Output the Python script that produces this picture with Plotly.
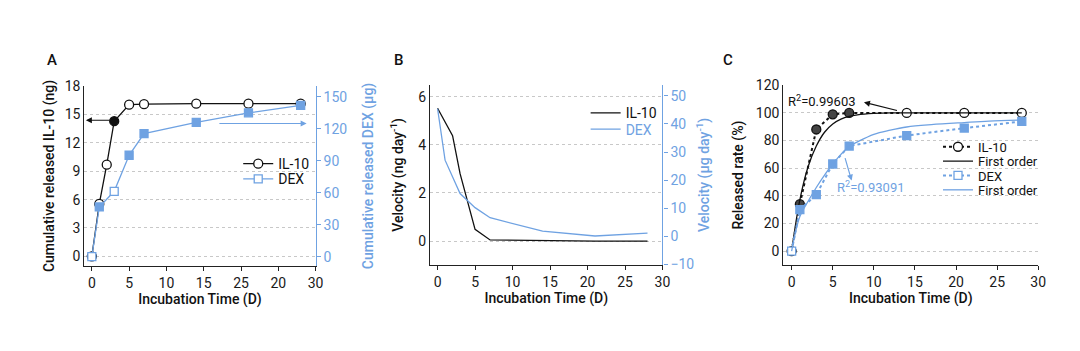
import plotly.graph_objects as go

BLUE = "#6fa2e2"
BLACK = "#111111"
GRID = "#c8c8c8"
FONT = "Roboto, Arial, sans-serif"

# Panel A: cumulative release
days_il10 = [0, 1, 2, 3, 5, 7, 14, 21, 28]
cum_il10 = [0, 5.55, 9.7, 14.3, 16.05, 16.1, 16.15, 16.15, 16.15]
days_dex = [0, 1, 3, 5, 7, 14, 21, 28]
cum_dex = [0, 46.7, 61.4, 95.2, 115.6, 126.0, 135.0, 142.0]
a_xticks = [0, 5, 10, 15, 20, 25, 30]
a_xticktext = ["0", "5", "10", "15", "25", "20", "30"]

# Panel B: release velocity
vel_days = [0, 1, 2, 3, 5, 7, 14, 21, 28]
vel_il10 = [5.52, 4.95, 4.38, 2.8, 0.49, 0.05, 0.01, 0.0, 0.0]
vel_days_dex = [0, 1, 3, 5, 7, 14, 21, 28]
vel_dex = [45.4, 27.1, 15.2, 10.2, 6.6, 1.8, 0.1, 1.1]

# Panel C: released rate and first-order fits
rate_days = [0, 1, 3, 5, 7, 14, 21, 28]
rate_il10 = [0, 33.9, 88.0, 99.0, 100.0, 100.0, 100.0, 100.0]
rate_dex = [0, 30.0, 40.8, 63.0, 76.0, 83.6, 89.0, 93.8]
fit_days = [0, 1, 2, 3, 4, 5, 6, 7, 8, 10, 12, 14, 17, 21, 24, 28]
fit_il10 = [0, 37, 61, 76, 86, 92, 95.5, 97.5, 98.6, 99.6, 100, 100, 100, 100, 100, 100]
fit_dex = [0, 25, 36, 46, 55, 63, 70, 75.7, 79, 84.5, 87.5, 89.8, 91.5, 93, 94, 94.8]

fig = go.Figure()

# ---------- Panel A ----------
il10_fill = ["white"] * len(cum_il10)
il10_fill[3] = BLACK
fig.add_trace(go.Scatter(
    x=days_il10, y=cum_il10, name="IL-10", mode="lines+markers",
    line=dict(color=BLACK, width=1.3),
    marker=dict(symbol="circle", size=9, color=il10_fill, line=dict(color=BLACK, width=1.3)),
    xaxis="x", yaxis="y", legend="legend"))
dex_fill = [BLUE] * len(cum_dex)
dex_fill[0] = "white"
dex_fill[2] = "white"
fig.add_trace(go.Scatter(
    x=days_dex, y=cum_dex, name="DEX", mode="lines+markers",
    line=dict(color=BLUE, width=1.3),
    marker=dict(symbol="square", size=8, color=dex_fill, line=dict(color=BLUE, width=1.3)),
    xaxis="x", yaxis="y2", legend="legend2"))

# ---------- Panel B ----------
fig.add_trace(go.Scatter(
    x=vel_days, y=vel_il10, name="IL-10", mode="lines",
    line=dict(color=BLACK, width=1.3), xaxis="x2", yaxis="y3", legend="legend3"))
fig.add_trace(go.Scatter(
    x=vel_days_dex, y=vel_dex, name="<span style='color:%s'>DEX</span>" % BLUE, mode="lines",
    line=dict(color=BLUE, width=1.3), xaxis="x2", yaxis="y4", legend="legend4"))

# ---------- Panel C ----------
c_fill = ["white"] * len(rate_il10)
for i in (1, 2, 3, 4):
    c_fill[i] = "#444444"
fig.add_trace(go.Scatter(
    x=rate_days, y=rate_il10, name="IL-10", mode="lines+markers",
    line=dict(color=BLACK, width=2, dash="dot"),
    marker=dict(symbol="circle", size=9, color=c_fill, line=dict(color=BLACK, width=1.3)),
    xaxis="x3", yaxis="y5", legend="legend5"))
fig.add_trace(go.Scatter(
    x=fit_days, y=fit_il10, name="First order", mode="lines",
    line=dict(color=BLACK, width=1.3, shape="spline"),
    xaxis="x3", yaxis="y5", legend="legend6"))
cd_fill = [BLUE] * len(rate_dex)
cd_fill[0] = "white"
fig.add_trace(go.Scatter(
    x=rate_days, y=rate_dex, name="DEX", mode="lines+markers",
    line=dict(color=BLUE, width=2, dash="dot"),
    marker=dict(symbol="square", size=8, color=cd_fill, line=dict(color=BLUE, width=1.3)),
    xaxis="x3", yaxis="y5", legend="legend7"))
fig.add_trace(go.Scatter(
    x=fit_days, y=fit_dex, name="First order", mode="lines",
    line=dict(color=BLUE, width=1.3, shape="spline"),
    xaxis="x3", yaxis="y5", legend="legend8"))

tickfont = dict(family=FONT, size=14, color="#1a1a1a")
titlefont = dict(family=FONT, size=14, color="#111111", weight=500)
bluetick = dict(family=FONT, size=14, color=BLUE)
bluetitle = dict(family=FONT, size=14, color=BLUE, weight=500)


def xax(domain, anchor, tickvals, ticktext=None):
    d = dict(domain=domain, anchor=anchor, range=[-1, 30], tickvals=tickvals,
             showline=True, linecolor="#222222", linewidth=1.3, ticks="outside",
             ticklen=4, tickcolor="#222222", showgrid=False, zeroline=False,
             tickfont=tickfont,
             title=dict(text="Incubation Time (D)", font=titlefont, standoff=3))
    if ticktext:
        d["ticktext"] = ticktext
    return d


def yax(domain, anchor, rng, dtick, title, standoff=6):
    return dict(domain=domain, anchor=anchor, range=rng, dtick=dtick, tick0=0,
                showline=True, linecolor="#222222", linewidth=1.3, ticks="",
                showgrid=True, gridcolor=GRID, griddash="dot", gridwidth=1,
                zeroline=False, tickfont=tickfont,
                title=dict(text=title, font=titlefont, standoff=standoff))


def yright(overlay, anchor, rng, dtick, title, standoff=10):
    return dict(overlaying=overlay, anchor=anchor, side="right", range=rng, dtick=dtick,
                tick0=0, showline=True, linecolor=BLUE, linewidth=1.3, ticks="outside",
                ticklen=4, tickcolor=BLUE, showgrid=False, zeroline=False,
                tickfont=bluetick, title=dict(text=title, font=bluetitle, standoff=standoff))


def leg(xpx, ypx, size=14):
    return dict(x=xpx / 1080, y=1 - ypx / 351, xanchor="left", yanchor="middle",
                bgcolor="rgba(0,0,0,0)", borderwidth=0,
                font=dict(family=FONT, size=size, color="#111111"), itemwidth=30)


fig.update_layout(
    width=1080, height=351,
    margin=dict(l=0, r=0, t=0, b=0),
    paper_bgcolor="white", plot_bgcolor="white",
    font=dict(family=FONT, color="#111111"),
    xaxis=xax([0.0787, 0.2944], "y", a_xticks, a_xticktext),
    yaxis=yax([0.2328, 0.7672], "x", [-1, 18], 3, "Cumulative released IL-10 (ng)"),
    yaxis2=yright("y", "x", [-8.5, 160], 30, "Cumulative released DEX (μg)", 16),
    xaxis2=xax([0.4012, 0.618], "y3", [0, 5, 10, 15, 20, 25, 30]),
    yaxis3=yax([0.2345, 0.772], "x2", [-1, 6.5], 2, "Velocity (ng day<sup>-1</sup>)", 11),
    yaxis4=yright("y3", "x2", [-10.3, 54], 10, "Velocity (μg day<sup>-1</sup>)", 5),
    xaxis3=xax([0.7308, 0.9685], "y5", [0, 5, 10, 15, 20, 25, 30]),
    yaxis5=yax([0.2356, 0.77], "x3", [-10, 120], 20, "Released rate (%)", 8),
    legend=leg(240, 163),
    legend2=leg(240, 179),
    legend3=leg(590, 110),
    legend4=leg(590, 127),
    legend5=leg(945, 145, 13),
    legend6=leg(945, 160, 13),
    legend7=leg(945, 175, 13),
    legend8=leg(945, 190, 13),
    showlegend=True,
)

annotations = [
    dict(text="A", x=0.0417, y=0.8775, xref="paper", yref="paper", showarrow=False,
         font=dict(family=FONT, size=15, color="#111111", weight=500)),
    dict(text="B", x=0.3722, y=0.8775, xref="paper", yref="paper", showarrow=False,
         font=dict(family=FONT, size=15, color="#111111", weight=500)),
    dict(text="C", x=0.686, y=0.8775, xref="paper", yref="paper", showarrow=False,
         font=dict(family=FONT, size=15, color="#111111", weight=500)),
    # Panel A arrows
    dict(x=-0.8, y=14.4, ax=2.6, ay=14.4, xref="x", yref="y", axref="x", ayref="y",
         text="", showarrow=True, arrowhead=2, arrowsize=1, arrowwidth=1.2, arrowcolor=BLACK),
    dict(x=28.8, y=125, ax=16.9, ay=125, xref="x", yref="y2", axref="x", ayref="y2",
         text="", showarrow=True, arrowhead=2, arrowsize=1, arrowwidth=1.2, arrowcolor=BLUE),
    # Panel C annotations
    dict(text="R<sup>2</sup>=0.99603", x=3.7, y=108.6, xref="x3", yref="y5", showarrow=False,
         font=dict(family=FONT, size=13, color="#111111")),
    dict(x=8.8, y=107.7, ax=13.0, ay=101.5, xref="x3", yref="y5", axref="x3", ayref="y5",
         text="", showarrow=True, arrowhead=2, arrowsize=1, arrowwidth=1.2, arrowcolor=BLACK),
    dict(text="R<sup>2</sup>=0.93091", x=9.6, y=46, xref="x3", yref="y5", showarrow=False,
         font=dict(family=FONT, size=13, color=BLUE)),
    dict(x=7.3, y=51, ax=6.45, ay=68.3, xref="x3", yref="y5", axref="x3", ayref="y5",
         text="", showarrow=True, arrowhead=2, arrowsize=1, arrowwidth=1.2, arrowcolor=BLUE),
]
fig.update_layout(annotations=annotations)

fig.write_html("out.html")
